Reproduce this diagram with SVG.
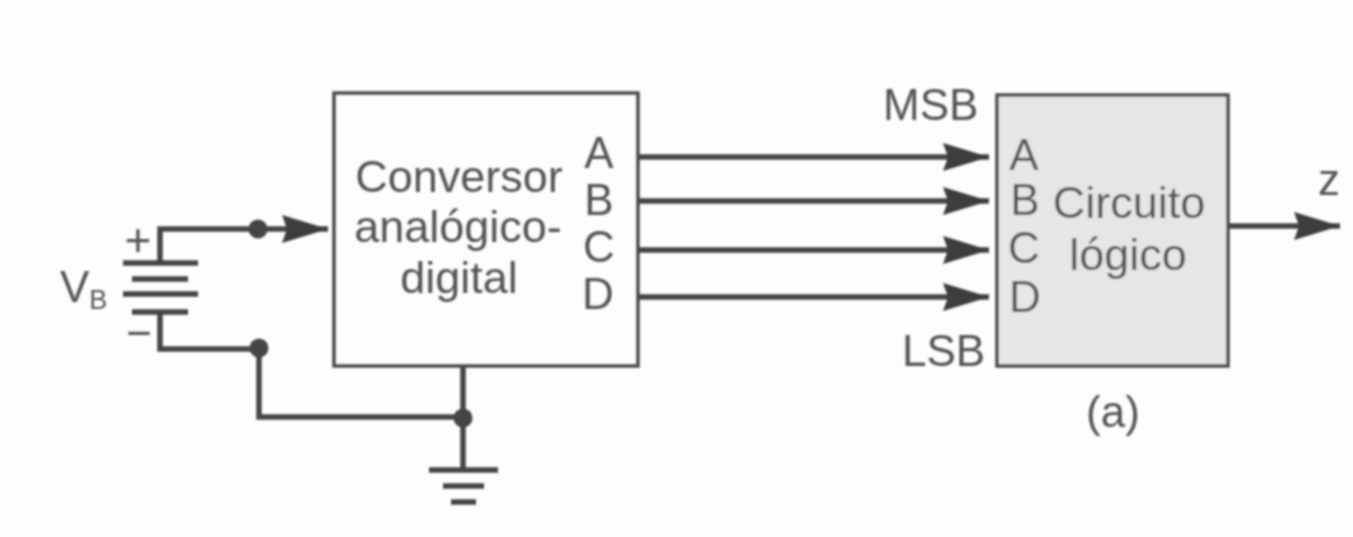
<svg xmlns="http://www.w3.org/2000/svg" width="1353" height="537" viewBox="0 0 1353 537">
<style>
text{font-family:"Liberation Sans",Arial,sans-serif;fill:#555;font-size:44px}
.m{text-anchor:middle}
.w{fill:none;stroke:#444;stroke-width:5.5}
.b{fill:none;stroke:#4a4a4a;stroke-width:3.5}
.d{fill:#444}
</style>
<defs>
<marker id="a" markerUnits="userSpaceOnUse" markerWidth="48" markerHeight="30" refX="46" refY="15" orient="auto"><path d="M0 1L46 15L0 29L5 15Z" fill="#3c3c3c"/></marker>
<filter id="s" filterUnits="userSpaceOnUse" x="0" y="0" width="1353" height="537"><feGaussianBlur stdDeviation="0.8"/></filter>
</defs>
<rect width="1353" height="537" fill="#fdfdfd"/>
<g filter="url(#s)">
<g id="connectors">
<path class="w" d="M160 265V229H328" marker-end="url(#a)"/>
<path class="w" d="M160 312V349H259V417H463"/>
<path class="w" d="M463 366V468"/>
<path class="w" d="M638 157H989" marker-end="url(#a)"/>
<path class="w" d="M638 201H989" marker-end="url(#a)"/>
<path class="w" d="M638 250H989" marker-end="url(#a)"/>
<path class="w" d="M638 297H989" marker-end="url(#a)"/>
<path class="w" d="M1229 226H1340" marker-end="url(#a)"/>
<circle class="d" cx="258" cy="229" r="9.5"/><circle class="d" cx="259" cy="348" r="9.5"/><circle class="d" cx="463" cy="418" r="9.5"/>
</g>
<g id="battery">
<path class="w" d="M123 263H198M132 279H188M123 294H198M132 312H188"/>
<text x="138" y="256" class="m" style="font-size:46px">+</text><text x="139" y="348" class="m">−</text>
<text x="60" y="302">V<tspan style="font-size:27px" dy="7">B</tspan></text>
</g>
<g id="ground"><path class="w" d="M429 470H498M443 486H484M451 502H476"/></g>
<g id="adc"><rect class="b" x="334" y="93" width="304" height="273"/>
<text class="m" x="459" y="192" style="font-size:45px">Conversor</text><text class="m" x="458" y="242" style="font-size:45px">analógico-</text><text class="m" x="459" y="293" style="font-size:45px">digital</text>
<text class="m" x="599" y="168">A</text><text class="m" x="599" y="215">B</text><text class="m" x="599" y="262">C</text><text class="m" x="598" y="309">D</text></g>
<g id="logic"><rect x="997" y="95" width="231" height="271" fill="#e6e6e8" stroke="#4a4a4a" stroke-width="3.5"/>
<text class="m" x="1024" y="170">A</text><text class="m" x="1025" y="215">B</text><text class="m" x="1024" y="263">C</text><text class="m" x="1025" y="312">D</text>
<text class="m" x="1129" y="218" style="font-size:45px">Circuito</text><text class="m" x="1128" y="270" style="font-size:45px">lógico</text></g>
<text x="883" y="120">MSB</text><text x="902" y="366">LSB</text><text class="m" x="1113" y="427">(a)</text><text class="m" x="1329" y="195">z</text>
</g>
</svg>
